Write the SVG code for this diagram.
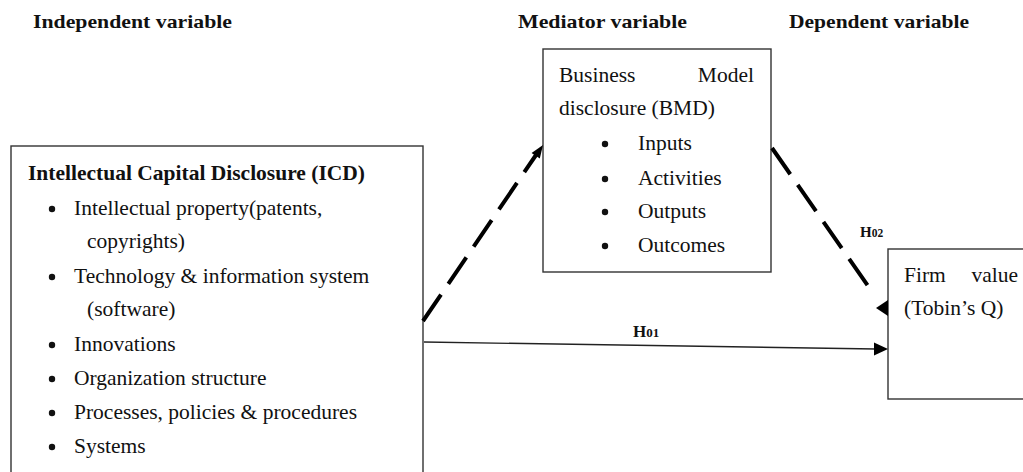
<svg xmlns="http://www.w3.org/2000/svg" width="1023" height="472" viewBox="0 0 1023 472">
<style>
.t{font-family:'Liberation Serif','Tinos','Times New Roman','DejaVu Serif',serif;font-size:21.5px;fill:#111}
.b{font-weight:bold}
.hd{font-family:'Liberation Serif','Tinos','Times New Roman','DejaVu Serif',serif;font-size:19px;font-weight:bold;fill:#111}
.box{fill:#fff;stroke:#333;stroke-width:1.4}
.dash{fill:none;stroke:#000;stroke-width:4;stroke-dasharray:32 13}
.solid{fill:none;stroke:#222;stroke-width:1.4}
.head{fill:#000}
.dot{fill:#111}
</style>
<rect width="1023" height="472" fill="#fff"/>
<g id="headers">
<text class="hd" x="33" y="28" textLength="199" lengthAdjust="spacingAndGlyphs">Independent variable</text>
<text class="hd" x="518" y="28" textLength="169" lengthAdjust="spacingAndGlyphs">Mediator variable</text>
<text class="hd" x="789" y="28" textLength="180" lengthAdjust="spacingAndGlyphs">Dependent variable</text>
</g>
<g id="icd">
<rect class="box" x="11" y="146" width="412" height="340"/>
<text class="t b" x="28" y="180">Intellectual Capital Disclosure (ICD)</text>
<circle class="dot" cx="52" cy="209" r="3.2"/>
<text class="t" x="74" y="215">Intellectual property(patents,</text>
<text class="t" x="87" y="248">copyrights)</text>
<circle class="dot" cx="52" cy="277" r="3.2"/>
<text class="t" x="74" y="283">Technology &amp; information system</text>
<text class="t" x="87" y="316">(software)</text>
<circle class="dot" cx="52" cy="345" r="3.2"/>
<text class="t" x="74" y="351">Innovations</text>
<circle class="dot" cx="52" cy="379" r="3.2"/>
<text class="t" x="74" y="385">Organization structure</text>
<circle class="dot" cx="52" cy="413" r="3.2"/>
<text class="t" x="74" y="419">Processes, policies &amp; procedures</text>
<circle class="dot" cx="52" cy="447" r="3.2"/>
<text class="t" x="74" y="453">Systems</text>
</g>
<g id="bmd">
<rect class="box" x="543" y="49" width="228" height="223"/>
<text class="t" x="559" y="82">Business</text>
<text class="t" x="754" y="82" text-anchor="end">Model</text>
<text class="t" x="559" y="115">disclosure (BMD)</text>
<circle class="dot" cx="605" cy="144" r="3.2"/>
<text class="t" x="638" y="150">Inputs</text>
<circle class="dot" cx="605" cy="179" r="3.2"/>
<text class="t" x="638" y="185">Activities</text>
<circle class="dot" cx="605" cy="212" r="3.2"/>
<text class="t" x="638" y="218">Outputs</text>
<circle class="dot" cx="605" cy="246" r="3.2"/>
<text class="t" x="638" y="252">Outcomes</text>
</g>
<g id="firm">
<rect class="box" x="888" y="249" width="150" height="150"/>
<text class="t" x="904" y="282">Firm</text>
<text class="t" x="1018" y="282" text-anchor="end">value</text>
<text class="t" x="904" y="315">(Tobin’s Q)</text>
</g>
<g id="connectors">
<line class="dash" x1="423" y1="321" x2="536" y2="155"/>
<polygon class="head" points="543,145 539.8,158.5 531.6,152.9"/>
<line class="dash" x1="772" y1="148" x2="873" y2="293"/>
<polygon class="head" points="876,308 888,300 888,316"/>
<line class="solid" x1="424" y1="342" x2="876" y2="349"/>
<polygon class="head" points="888,349 874,342.5 874,355.5"/>
</g>
<g id="labels">
<text class="t b" x="633" y="337" style="font-size:17px">H<tspan style="font-size:13px">01</tspan></text>
<text class="t b" x="860" y="237" style="font-size:15px">H<tspan style="font-size:11.5px">02</tspan></text>
</g>
</svg>
